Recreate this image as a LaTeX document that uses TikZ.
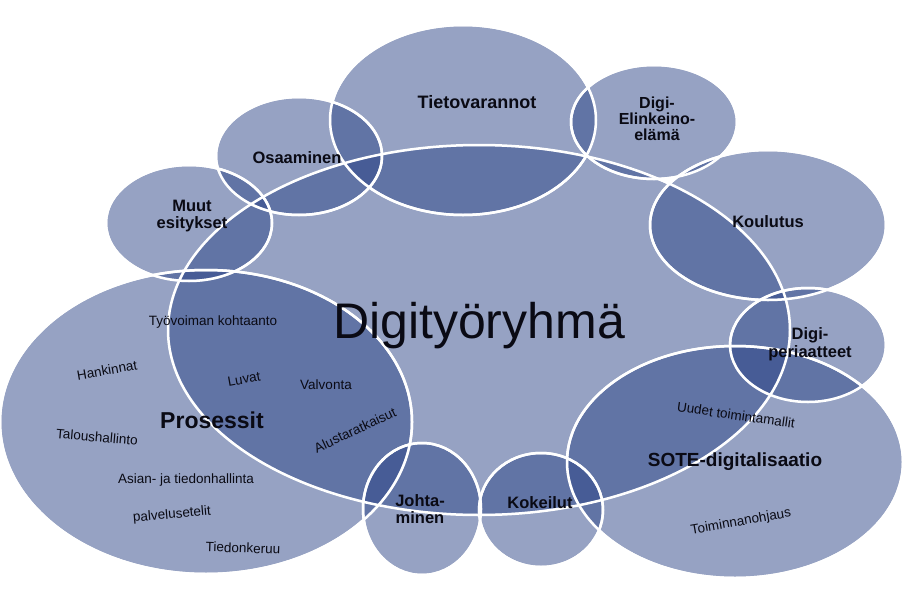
\documentclass[tikz,border=0pt]{standalone}
\usepackage{fontspec}
\setmainfont{Liberation Sans}
\definecolor{bub}{RGB}{45,70,135}
\definecolor{txt}{RGB}{10,10,20}
\tikzset{bubble/.style={fill=bub,fill opacity=0.5,draw=white,line width=2.5pt,draw opacity=1},
 title/.style={font=\bfseries\fontsize{16.5}{17.5}\selectfont,align=center,text=txt},
 small/.style={font=\fontsize{13.5}{14}\selectfont,text=txt}}
\begin{document}
\begin{tikzpicture}[x=1pt,y=-1pt]
\useasboundingbox (0,0) rectangle (913,589);
\fill[bubble] (479,330) ellipse [x radius=311,y radius=185];
\fill[bubble] (463,120) ellipse [x radius=133,y radius=95];
\fill[bubble] (654,122) ellipse [x radius=83,y radius=57];
\fill[bubble] (299,156) ellipse [x radius=83,y radius=59];
\fill[bubble] (189,223) ellipse [x radius=83,y radius=58];
\fill[bubble] (768,225) ellipse [x radius=118,y radius=75];
\fill[bubble] (808,345) ellipse [x radius=78,y radius=57];
\fill[bubble] (735,462) ellipse [x radius=168,y radius=116];
\fill[bubble] (206,422) ellipse [x radius=206,y radius=152];
\fill[bubble] (422,509) ellipse [x radius=59,y radius=66];
\fill[bubble] (541,510) ellipse [x radius=62,y radius=57];
\draw[bubble,fill=none] (479,330) ellipse [x radius=311,y radius=185];
\draw[bubble,fill=none] (463,120) ellipse [x radius=133,y radius=95];
\draw[bubble,fill=none] (654,122) ellipse [x radius=83,y radius=57];
\draw[bubble,fill=none] (299,156) ellipse [x radius=83,y radius=59];
\draw[bubble,fill=none] (189,223) ellipse [x radius=83,y radius=58];
\draw[bubble,fill=none] (768,225) ellipse [x radius=118,y radius=75];
\draw[bubble,fill=none] (808,345) ellipse [x radius=78,y radius=57];
\draw[bubble,fill=none] (735,462) ellipse [x radius=168,y radius=116];
\draw[bubble,fill=none] (206,422) ellipse [x radius=206,y radius=152];
\draw[bubble,fill=none] (422,509) ellipse [x radius=59,y radius=66];
\draw[bubble,fill=none] (541,510) ellipse [x radius=62,y radius=57];
\node[text=txt,font=\fontsize{50}{52}\selectfont] (main) at (479,326) {Digityöryhmä};
\node[title,font=\bfseries\fontsize{18}{19}\selectfont] (tv) at (477,102) {Tietovarannot};
\node[title,font=\bfseries\fontsize{16}{16}\selectfont] (de) at (657,119) {Digi-\\Elinkeino-\\elämä};
\node[title] (os) at (297,158) {Osaaminen};
\node[title] (me) at (192,216) {Muut\\esitykset};
\node[title] (ko) at (768,222) {Koulutus};
\node[title] (dp) at (810,344) {Digi-\\periaatteet};
\node[title,font=\bfseries\fontsize{19}{20}\selectfont] (so) at (735,462) {SOTE-digitalisaatio};
\node[title] (kk) at (540,503) {Kokeilut};
\node[title] (jo) at (420,509) {Johta-\\minen};
\node[title,font=\bfseries\fontsize{23}{24}\selectfont] (pr) at (212,420) {Prosessit};
\node[small] (t1) at (213,322) {Työvoiman kohtaanto};
\node[small,rotate=10] (t2) at (107,370) {Hankinnat};
\node[small,rotate=10] (t3) at (244,379) {Luvat};
\node[small] (t4) at (326,385) {Valvonta};
\node[small,rotate=25] (t5) at (355,430) {Alustaratkaisut};
\node[small,rotate=-5] (t6) at (97,437) {Taloushallinto};
\node[small] (t7) at (186,480) {Asian- ja tiedonhallinta};
\node[small,rotate=5] (t8) at (172,515) {palvelusetelit};
\node[small,rotate=-2] (t9) at (243,548) {Tiedonkeruu};
\node[small,rotate=-8] (t10) at (736,415) {Uudet toimintamallit};
\node[small,rotate=10] (t11) at (741,522) {Toiminnanohjaus};
\end{tikzpicture}
\end{document}
